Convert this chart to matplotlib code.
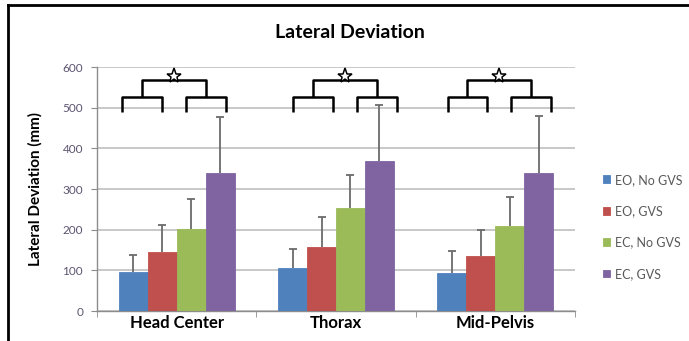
import numpy as np
import matplotlib.pyplot as plt
from matplotlib.lines import Line2D

plt.rcParams["font.family"] = ["Lato", "DejaVu Sans"]

# --- data ---
categories = ["Head Center", "Thorax", "Mid-Pelvis"]
series_names = ["EO, No GVS", "EO, GVS", "EC, No GVS", "EC, GVS"]
means = {
    "EO, No GVS": [97, 106, 93],
    "EO, GVS": [146, 157, 136],
    "EC, No GVS": [202, 254, 210],
    "EC, GVS": [340, 369, 340],
}
upper_err = {
    "EO, No GVS": [41, 46, 54],
    "EO, GVS": [65, 73, 63],
    "EC, No GVS": [73, 80, 71],
    "EC, GVS": [138, 138, 139],
}
colors = ["#4F81BD", "#C0504D", "#9BBB59", "#8064A2"]

fig = plt.figure(figsize=(6.89, 3.41), dpi=100)
ax = fig.add_axes([97 / 689, 30 / 341, 478 / 689, 244 / 341])

x = np.arange(len(categories))
w = 0.182
for i, name in enumerate(series_names):
    pos = x + (i - 1.5) * w
    vals = np.asarray(means[name], dtype=float)
    err = np.asarray(upper_err[name], dtype=float)
    ax.bar(pos, vals, width=w, color=colors[i], edgecolor=colors[i],
           linewidth=0.6, label=name, zorder=3)
    # upper-only error bars: stem from the bar top plus a cap at the end
    ax.vlines(pos, vals, vals + err, color="#6b6b6b", lw=1.3, zorder=4)
    ax.plot(pos, vals + err, ls="none", marker="_", ms=6, mew=1.3,
            color="#6b6b6b", zorder=4)

# --- significance brackets ---
shift = [-0.04, 0.03, 0.0]   # small per-group offsets seen in the picture
y_leg, y_mid, y_top = 489, 527, 568
for xi, s in zip(x, shift):
    c = xi + s
    left = (c - 0.30, c - 0.05)
    right = (c + 0.10, c + 0.35)
    for a, b in (left, right):
        ax.plot([a, a, b, b], [y_leg, y_mid, y_mid, y_leg], color="black",
                lw=1.8, zorder=5, solid_capstyle="butt")
    lm = sum(left) / 2
    rm = sum(right) / 2
    ax.plot([lm, lm, rm, rm], [y_mid, y_top, y_top, y_mid], color="black",
            lw=1.8, zorder=5, solid_capstyle="butt")
    ax.plot([(lm + rm) / 2], [579], marker="*", ms=11, mfc="white",
            mec="black", mew=1.1, zorder=6, clip_on=False)

# --- axes styling ---
ax.set_xlim(-0.5, 2.5)
ax.set_ylim(0, 600)
ax.set_yticks(np.arange(0, 601, 100))
ax.yaxis.grid(True, color="#c4c4c4", lw=1.3, zorder=0)
ax.set_axisbelow(True)
for sp in ("top", "right"):
    ax.spines[sp].set_visible(False)
for sp in ("left", "bottom"):
    ax.spines[sp].set_color("#8c8c8c")
    ax.spines[sp].set_linewidth(1.0)

ax.tick_params(axis="y", length=4, color="#8c8c8c", labelsize=8.5,
               labelcolor="#5c5470", pad=6)
ax.set_xticks(x)
ax.set_xticklabels(categories, fontsize=12, fontweight="bold")
ax.tick_params(axis="x", length=0, pad=3)
ax.set_xticks([-0.5, 0.5, 1.5, 2.5], minor=True)
ax.tick_params(axis="x", which="minor", length=4, color="#8c8c8c")

ax.set_ylabel("Lateral Deviation (mm)", fontsize=11, fontweight="bold",
              labelpad=14)
fig.text(350 / 689, 1 - 33 / 341, "Lateral Deviation", ha="center",
         va="center", fontsize=14, fontweight="bold")

ax.legend(loc="center left", bbox_to_anchor=(1.035, 0.345), frameon=False,
          fontsize=9, handlelength=0.6, handleheight=0.6, handletextpad=0.4,
          labelspacing=1.55, labelcolor="#595959")

# outer frame (only top and left edges visible in the crop)
fig.add_artist(Line2D([8 / 689, 8 / 689], [0, 1 - 5 / 341],
                      transform=fig.transFigure, color="black", lw=2))
fig.add_artist(Line2D([8 / 689, 1], [1 - 5 / 341, 1 - 5 / 341],
                      transform=fig.transFigure, color="black", lw=2))

fig.savefig("out.png", dpi=100)
